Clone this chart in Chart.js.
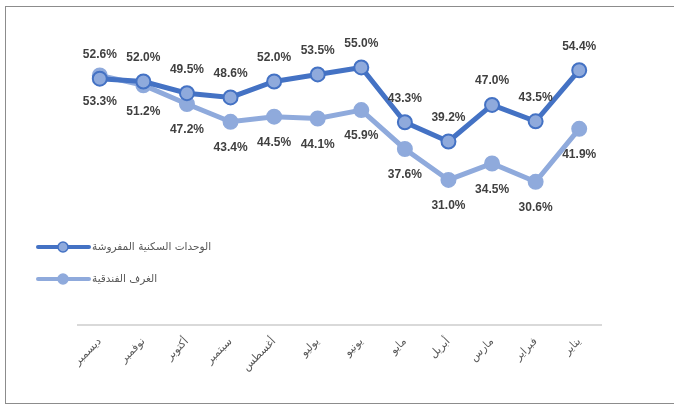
<!DOCTYPE html>
<html>
<head>
<meta charset="utf-8">
<script src="https://cdn.jsdelivr.net/npm/chart.js@4"></script>
<style>
  html, body { margin: 0; padding: 0; background: #fff; }
  #wrap { position: relative; width: 674px; height: 410px; overflow: hidden; }
  #frame { position: absolute; left: 5px; top: 6px; width: 700px; height: 398px; border: 1px solid #8c8c8c; box-sizing: border-box; }
  canvas { position: absolute; left: 0; top: 0; }
</style>
</head>
<body>
<div id="wrap">
  <div id="frame"></div>
  <canvas id="chart" width="674" height="410"></canvas>
</div>
<script>
// categories (right-to-left months, as on the chart)
var months = ['ديسمبر', 'نوفمبر', 'أكتوبر', 'سبتمبر', 'أغسطس', 'يوليو', 'يونيو', 'مايو', 'أبريل', 'مارس', 'فبراير', 'يناير'];

// occupancy rates (%)
var furnishedUnits = [52.6, 52.0, 49.5, 48.6, 52.0, 53.5, 55.0, 43.3, 39.2, 47.0, 43.5, 54.4];
var hotelRooms = [53.3, 51.2, 47.2, 43.4, 44.5, 44.1, 45.9, 37.6, 31.0, 34.5, 30.6, 41.9];

var seriesNames = ['الوحدات السكنية المفروشة', 'الغرف الفندقية'];

var darkBlue = '#4472C4';
var lightBlue = '#8FAADC';

// value labels above / below each point
var valueLabels = {
    id: 'valueLabels',
    afterDatasetsDraw: function(chart) {
        var ctx = chart.ctx;
        ctx.save();
        ctx.font = 'bold 12px "Liberation Sans", Arial, sans-serif';
        ctx.fillStyle = '#404040';
        ctx.textAlign = 'center';
        ctx.textBaseline = 'middle';
        chart.data.datasets.forEach(function(ds, i) {
            var meta = chart.getDatasetMeta(i);
            meta.data.forEach(function(pt, j) {
                ctx.fillText(ds.data[j].toFixed(1) + '%', pt.x, pt.y + ds.labelOffset);
            });
        });
        ctx.restore();
    }
};

// legend sitting inside the plot, on the left
var sideLegend = {
    id: 'sideLegend',
    afterDraw: function(chart) {
        var ctx = chart.ctx;
        ctx.save();
        chart.data.datasets.forEach(function(ds, i) {
            var y = 247 + i * 32;
            ctx.strokeStyle = ds.borderColor;
            ctx.lineWidth = 4;
            ctx.lineCap = 'round';
            ctx.beginPath();
            ctx.moveTo(38, y);
            ctx.lineTo(89, y);
            ctx.stroke();
            ctx.beginPath();
            ctx.arc(63, y, 5, 0, Math.PI * 2);
            ctx.fillStyle = ds.pointBackgroundColor;
            ctx.fill();
            ctx.lineWidth = 1.5;
            ctx.strokeStyle = ds.pointBorderColor;
            ctx.stroke();
            ctx.font = '10.5px "DejaVu Sans", sans-serif';
            ctx.fillStyle = '#595959';
            ctx.textAlign = 'left';
            ctx.textBaseline = 'middle';
            ctx.fillText(ds.label, 92, y);
        });
        ctx.restore();
    }
};

new Chart(document.getElementById('chart'), {
    type: 'line',
    data: {
        labels: months,
        datasets: [{
            label: seriesNames[0],
            data: furnishedUnits,
            borderColor: darkBlue,
            borderWidth: 5,
            pointRadius: 7,
            pointBackgroundColor: lightBlue,
            pointBorderColor: darkBlue,
            pointBorderWidth: 2,
            labelOffset: -24,
            tension: 0
        }, {
            label: seriesNames[1],
            data: hotelRooms,
            borderColor: lightBlue,
            borderWidth: 5,
            pointRadius: 7,
            pointBackgroundColor: lightBlue,
            pointBorderColor: lightBlue,
            pointBorderWidth: 2,
            labelOffset: 26,
            tension: 0
        }]
    },
    options: {
        responsive: false,
        animation: false,
        layout: { padding: { left: 78, right: 73, top: 44, bottom: 26 } },
        plugins: {
            legend: { display: false },
            tooltip: { enabled: false }
        },
        scales: {
            x: {
                offset: true,
                grid: { display: false, drawTicks: false },
                border: { display: true, color: '#D9D9D9', width: 2 },
                ticks: {
                    minRotation: 45,
                    maxRotation: 45,
                    padding: 10,
                    color: '#595959',
                    font: { family: '"DejaVu Sans", sans-serif', size: 11 }
                }
            },
            y: {
                display: false,
                min: 0,
                max: 60
            }
        }
    },
    plugins: [valueLabels, sideLegend]
});
</script>
</body>
</html>
